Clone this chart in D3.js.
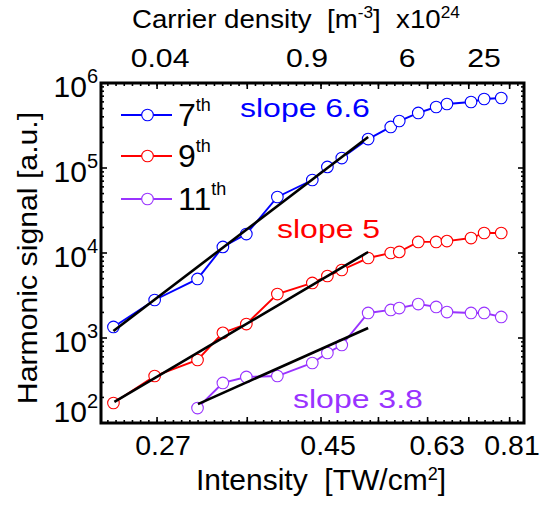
<!DOCTYPE html>
<html><head><meta charset="utf-8">
<script src="https://cdn.jsdelivr.net/npm/d3@7"></script>
<style>
body{margin:0;background:#fff}
svg{display:block}
text{font-family:"Liberation Sans",Arial,Helvetica,sans-serif;white-space:pre}
</style>
</head><body><div id="chart"></div>
<script>
// ---------------- data ----------------
const intensity   = [0.231, 0.263, 0.301, 0.326, 0.351, 0.387, 0.432, 0.453, 0.474, 0.515, 0.553, 0.568, 0.603, 0.638, 0.660, 0.712, 0.742, 0.783];
const intensity11 = [0.301, 0.326, 0.351, 0.387, 0.432, 0.453, 0.474, 0.515, 0.553, 0.568, 0.603, 0.638, 0.660, 0.712, 0.742, 0.783];
const harm7  = [1350, 2800, 4950, 11800, 16700, 45600, 72200, 103000, 131000, 219000, 304000, 357000, 444000, 522000, 566000, 598000, 648000, 666000];
const harm9  = [172, 357, 551, 1150, 1460, 3290, 4440, 5360, 6310, 8730, 10000, 10300, 13500, 13500, 13800, 15000, 17200, 17200];
const harm11 = [150, 296, 348, 357, 508, 666, 827, 1970, 2140, 2250, 2510, 2320, 2020, 1970, 1970, 1770];
const fit7X  = [0.231, 0.515], fit7Y  = [1209, 231500];
const fit9X  = [0.2317, 0.515], fit9Y = [177, 10275];
const fit11X = [0.3014, 0.515], fit11Y = [167, 1311];
const seriesNames  = ["7", "9", "11"];
const slopeLabels  = ["slope 6.6", "slope 5", "slope 3.8"];
const yTickValues  = [1e2, 1e3, 1e4, 1e5, 1e6];
const yTickExps    = ["2", "3", "4", "5", "6"];
const xTickLabels  = ["0.27", "0.45", "0.63", "0.81"];
const xTickPos     = [0.27, 0.454, 0.640, 0.81];
const topTickLabels = ["0.04", "0.9", "6", "25"];
const topTickPos    = [0.2675, 0.4249, 0.5821, 0.7417];
const xMajorTicks   = [0.265, 0.352, 0.444, 0.532, 0.621, 0.707, 0.804];

// ---------------- layout ----------------
const W = 545, H = 506;
const L = 101, R = 524, T = 83, B = 423;
const colors = ["#0000ff", "#ff0000", "#9933ff"];

const x = d3.scaleLog().domain([0.22213, 0.84117]).range([L, R]);
const y = d3.scaleLog().domain([1e2, 1e6]).range([B, T]);

const svg = d3.select("#chart").append("svg").attr("width", W).attr("height", H);
svg.append("rect").attr("width", W).attr("height", H).attr("fill", "#fff");

function txt(g, px, py, size, opts = {}) {
  const sx = opts.sx || 1, rot = opts.rot || 0;
  return g.append("text")
    .attr("transform", `translate(${px},${py}) rotate(${rot}) scale(${sx},1)`)
    .attr("font-size", size)
    .attr("text-anchor", opts.anchor || "start")
    .attr("fill", opts.fill || "#000");
}

// ---------------- ticks ----------------
const tickG = svg.append("g").attr("stroke", "#000").attr("stroke-width", 1.6);
const stepLn = 8.2 / (x.range()[1] - x.range()[0]) * Math.log(x.domain()[1] / x.domain()[0]);
const xMinor = d3.range(-6, 46).map(n => xMajorTicks[0] * Math.exp(n * stepLn)).filter(v => x(v) > L + 2 && x(v) < R - 2);
xMinor.forEach(v => {
  tickG.append("line").attr("x1", x(v)).attr("x2", x(v)).attr("y1", B).attr("y2", B - 3);
  tickG.append("line").attr("x1", x(v)).attr("x2", x(v)).attr("y1", T).attr("y2", T + 3);
});
xMajorTicks.forEach(v => {
  tickG.append("line").attr("x1", x(v)).attr("x2", x(v)).attr("y1", B).attr("y2", B - 6);
  tickG.append("line").attr("x1", x(v)).attr("x2", x(v)).attr("y1", T).attr("y2", T + 6);
});
const yMinor = [];
yTickValues.slice(0, -1).forEach(d => { for (let k = 2; k <= 9; k++) yMinor.push(d * k); });
yMinor.forEach(v => {
  tickG.append("line").attr("x1", L).attr("x2", L + 3).attr("y1", y(v)).attr("y2", y(v));
  tickG.append("line").attr("x1", R).attr("x2", R - 3).attr("y1", y(v)).attr("y2", y(v));
});
yTickValues.forEach(v => {
  tickG.append("line").attr("x1", L).attr("x2", L + 6).attr("y1", y(v)).attr("y2", y(v));
  tickG.append("line").attr("x1", R).attr("x2", R - 6).attr("y1", y(v)).attr("y2", y(v));
});

// ---------------- series ----------------
const series = [
  {xs: intensity, ys: harm7},
  {xs: intensity, ys: harm9},
  {xs: intensity11, ys: harm11}
];
const line = d3.line().x(d => x(d[0])).y(d => y(d[1]));
series.forEach((s, i) => {
  const pts = s.xs.map((v, j) => [v, s.ys[j]]);
  svg.append("path").attr("d", line(pts)).attr("fill", "none")
    .attr("stroke", colors[i]).attr("stroke-width", 1.9);
  svg.append("g").selectAll("circle").data(pts).join("circle")
    .attr("cx", d => x(d[0])).attr("cy", d => y(d[1])).attr("r", 5.8)
    .attr("fill", "#fff").attr("stroke", colors[i]).attr("stroke-width", 1.1);
});

// fits
[[fit7X, fit7Y], [fit9X, fit9Y], [fit11X, fit11Y]].forEach(([fx, fy]) => {
  svg.append("path").attr("d", line(fx.map((v, j) => [v, fy[j]])))
    .attr("fill", "none").attr("stroke", "#000").attr("stroke-width", 2.6);
});

// ---------------- frame ----------------
svg.append("rect").attr("x", L).attr("y", T).attr("width", R - L).attr("height", B - T)
  .attr("fill", "none").attr("stroke", "#000").attr("stroke-width", 3);

// ---------------- tick labels ----------------
yTickValues.forEach((v, i) => {
  const dy = v === 1e2 ? -1 : 14;
  const t = txt(svg, 98, y(v) + dy, 30, {anchor: "end"});
  t.append("tspan").text("10");
  t.append("tspan").attr("dy", -14).attr("font-size", 20).text(yTickExps[i]);
});
xTickLabels.forEach((lab, i) => {
  txt(svg, x(xTickPos[i]), 455, 28.5, {anchor: "middle"}).text(lab);
});
topTickLabels.forEach((lab, i) => {
  txt(svg, x(topTickPos[i]), 67, 25.6, {anchor: "middle", sx: 1.18}).text(lab);
});

// ---------------- titles ----------------
const tt = txt(svg, 132, 28, 25.6, {sx: 1.08});
tt.append("tspan").text("Carrier density  [m");
tt.append("tspan").attr("dy", -10).attr("font-size", 16).text("-3");
tt.append("tspan").attr("dy", 10).text("]  x10");
tt.append("tspan").attr("dy", -10).attr("font-size", 16).text("24");

const bt = txt(svg, 321, 490, 30, {anchor: "middle"});
bt.append("tspan").text("Intensity  [TW/cm");
bt.append("tspan").attr("dy", -10).attr("font-size", 18).text("2");
bt.append("tspan").attr("dy", 10).text("]");

txt(svg, 37, 258, 28, {anchor: "middle", rot: -90, sx: 1.08}).text("Harmonic signal [a.u.]");

// ---------------- slope annotations ----------------
const slopePos = [[240, 117], [277, 238], [293, 408]];
slopeLabels.forEach((s, i) => {
  txt(svg, slopePos[i][0], slopePos[i][1], 25.6, {sx: 1.25, fill: colors[i]}).text(s);
});

// ---------------- legend ----------------
const legY = [115, 156, 199];
seriesNames.forEach((nm, i) => {
  const g = svg.append("g");
  g.append("line").attr("x1", 121).attr("x2", 172).attr("y1", legY[i]).attr("y2", legY[i])
    .attr("stroke", colors[i]).attr("stroke-width", 1.9);
  g.append("circle").attr("cx", 147.5).attr("cy", legY[i]).attr("r", 5.8)
    .attr("fill", "#fff").attr("stroke", colors[i]).attr("stroke-width", 1.1);
  const t = txt(g, 178, legY[i] + 10.5, 32);
  t.append("tspan").text(nm);
  t.append("tspan").attr("dy", -15).attr("font-size", 18).text("th");
});
</script>
</body></html>
